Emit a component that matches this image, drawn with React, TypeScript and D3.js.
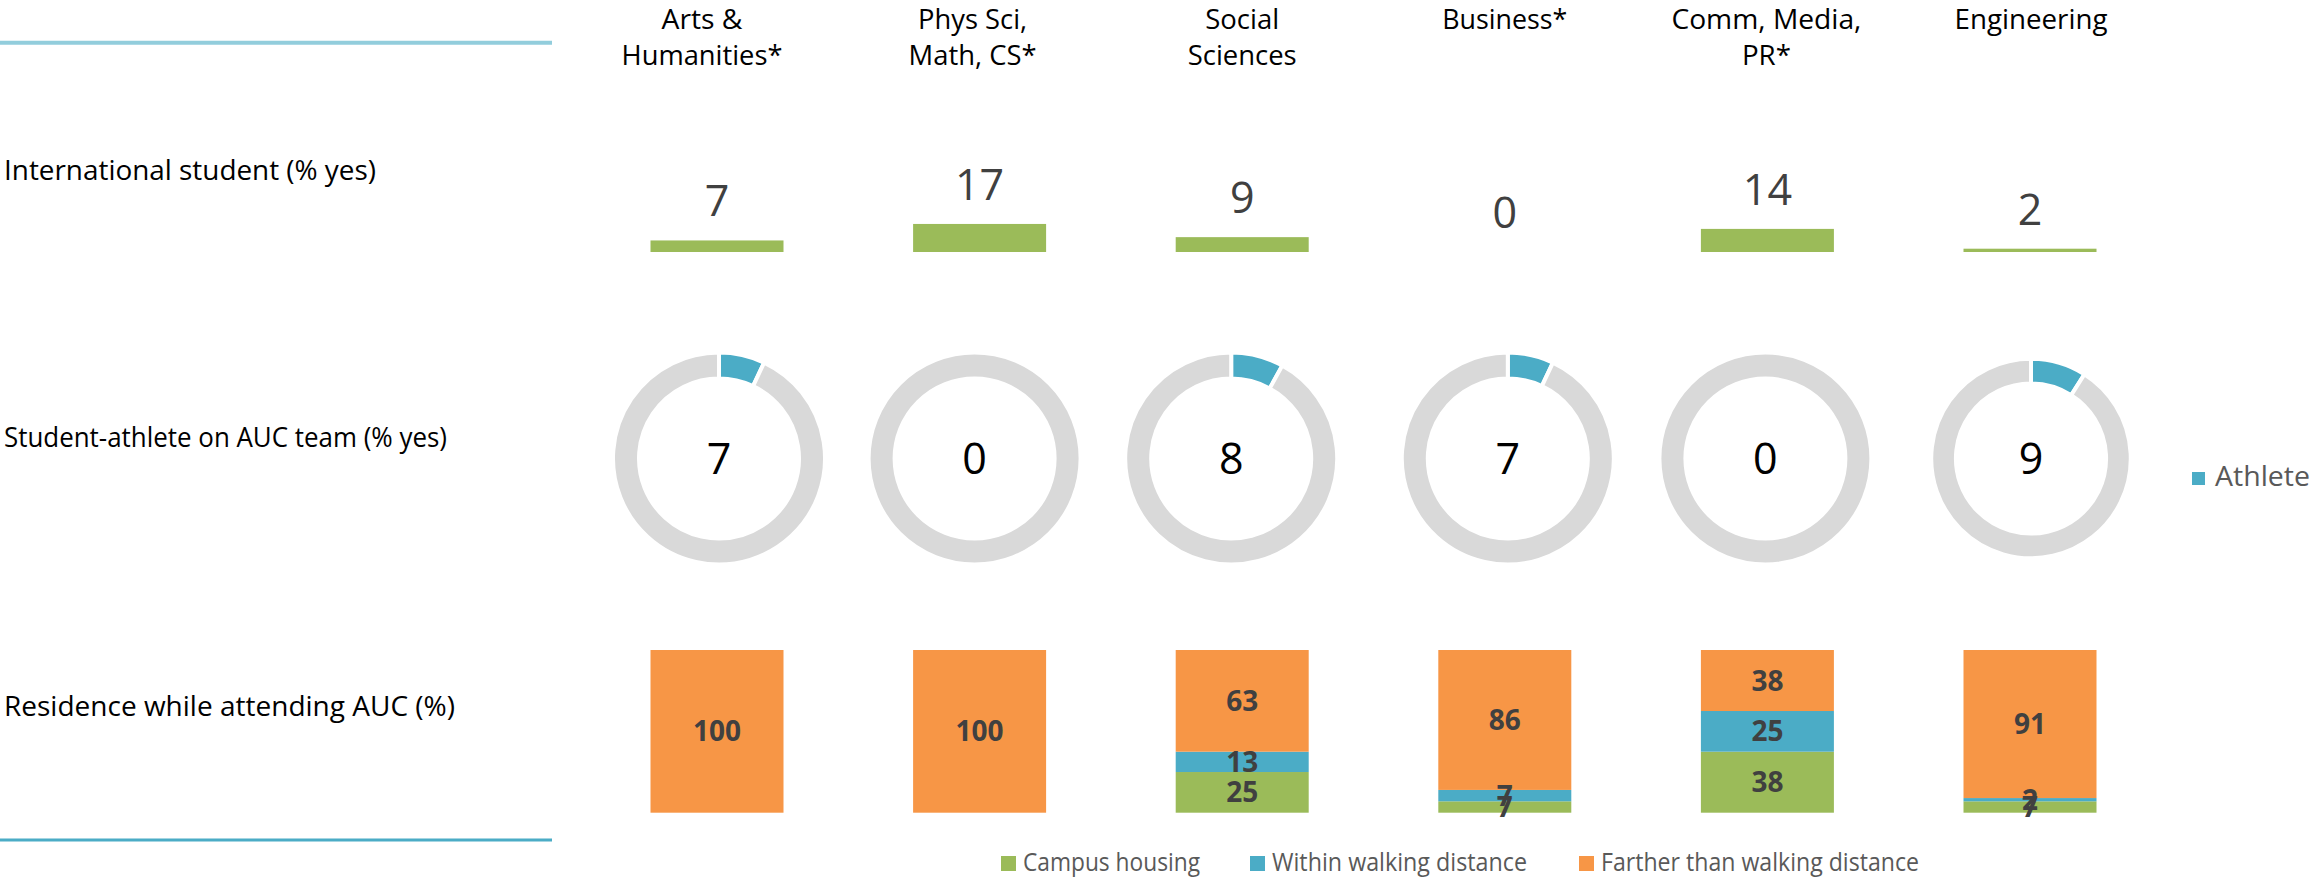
import React from "react";
import * as d3 from "d3";

// ---------- data ----------
const categories = [
  "Arts & Humanities*",
  "Phys Sci, Math, CS*",
  "Social Sciences",
  "Business*",
  "Comm, Media, PR*",
  "Engineering",
];
const headerLines = [
  ["Arts &", "Humanities*"],
  ["Phys Sci,", "Math, CS*"],
  ["Social", "Sciences"],
  ["Business*"],
  ["Comm, Media,", "PR*"],
  ["Engineering"],
];
const rowLabels = [
  "International student (% yes)",
  "Student-athlete on AUC team (% yes)",
  "Residence while attending AUC (%)",
];
const internationalYes = [7, 17, 9, 0, 14, 2];
const athleteYes = [7, 0, 8, 7, 0, 9];
const campusHousing = [0, 0, 25, 7, 37.5, 7];
const walkingDistance = [0, 0, 12.5, 7, 25, 2];
const fartherDistance = [100, 100, 62.5, 86, 37.5, 91];
const residenceSeries = ["Campus housing", "Within walking distance", "Farther than walking distance"];
const athleteLegend = "Athlete";

// ---------- layout / style ----------
const W = 2315;
const H = 879;
const FONT = "'Open Sans', 'Noto Sans', sans-serif";
const GREEN = "#9BBB59";
const BLUE = "#4BACC6";
const ORANGE = "#F79646";
const GRAY = "#D9D9D9";
const seriesColors = [GREEN, BLUE, ORANGE];
const headerDx = [-15, -7, 0, 0, -1, 1];
const headerWidths = [[81, 161], [109, 128], [74, 109], [125], [190, 49], [153]];
const donutDx = [2, -5, -11, 3, -2, 1];
const donutSize = [1, 1, 1, 1, 1, 0.94];
const rowLabelWidths = [372, 443, 451];
const rowLabelBaselines = [180, 447, 716];
const legendWidths = [177, 255, 318];
const legendX = [1001, 1250, 1579];

export default function App() {
  const x = d3.scalePoint<string>().domain(categories).range([717, 2030]);
  const barW = 133;

  const yIntl = d3.scaleLinear().domain([0, 100]).range([252, 87]);
  const yRes = d3.scaleLinear().domain([0, 100]).range([812.7, 650]);

  const table = categories.map((c, i) => ({
    cat: c,
    campus: campusHousing[i],
    walk: walkingDistance[i],
    far: fartherDistance[i],
  }));
  const keys = ["campus", "walk", "far"];
  const stacked = d3.stack<any>().keys(keys)(table);
  const fmt = d3.format(".0f");

  const pie = d3.pie<number>().sort(null).value((d) => d);

  return (
    <svg
      width={W}
      height={H}
      style={{ position: "absolute", left: 0, top: 0, background: "#fff" }}
      fontFamily={FONT}
    >
      {/* decorative lines */}
      <line x1={0} x2={552} y1={42.7} y2={42.7} stroke="#92CDDC" strokeWidth={4} />
      <line x1={0} x2={552} y1={840} y2={840} stroke={BLUE} strokeWidth={3} />

      {/* headers */}
      {headerLines.map((lines, i) =>
        lines.map((t, j) => (
          <text
            key={`h${i}-${j}`}
            x={(x(categories[i]) as number) + headerDx[i]}
            y={28.5 + j * 36}
            textAnchor="middle"
            fontSize={27}
            fill="#000"
            textLength={headerWidths[i][j]}
            lengthAdjust="spacingAndGlyphs"
          >
            {t}
          </text>
        ))
      )}

      {/* row labels */}
      {rowLabels.map((t, i) => (
        <text
          key={`r${i}`}
          x={4}
          y={rowLabelBaselines[i]}
          fontSize={28}
          fill="#000"
          textLength={rowLabelWidths[i]}
          lengthAdjust="spacingAndGlyphs"
        >
          {t}
        </text>
      ))}

      {/* row 1: international bars */}
      {internationalYes.map((v, i) => {
        const cx = x(categories[i]) as number;
        return (
          <g key={`b${i}`}>
            <rect x={cx - barW / 2} y={yIntl(v)} width={barW} height={yIntl(0) - yIntl(v)} fill={GREEN} />
            <text x={cx} y={yIntl(v) - 24} textAnchor="middle" fontSize={43} fill="#404040">
              {fmt(v)}
            </text>
          </g>
        );
      })}

      {/* row 2: athlete donuts */}
      {athleteYes.map((v, i) => {
        const cx = (x(categories[i]) as number) + donutDx[i];
        const cy = 458.5;
        const s = donutSize[i];
        const arc = d3.arc<d3.PieArcDatum<number>>().innerRadius(82 * s - 2).outerRadius(104 * s + 2);
        const arcs = pie([v, 100 - v]);
        return (
          <g key={`d${i}`} transform={`translate(${cx},${cy})`}>
            {arcs.map((a, k) => (
              <path key={k} d={arc(a) || ""} fill={k === 0 ? BLUE : GRAY} stroke="#fff" strokeWidth={4} />
            ))}
            <text x={0} y={15} textAnchor="middle" fontSize={43} fill="#000">
              {fmt(v)}
            </text>
          </g>
        );
      })}

      {/* athlete legend */}
      <rect x={2192} y={472} width={13} height={13} fill={BLUE} />
      <text x={2215} y={486} fontSize={27} fill="#595959" textLength={95} lengthAdjust="spacingAndGlyphs">
        {athleteLegend}
      </text>

      {/* row 3: residence stacked bars */}
      {stacked.map((series, si) => (
        <g key={`s${si}`}>
          {series.map((d, i) => {
            const cx = x(categories[i]) as number;
            const v = d[1] - d[0];
            if (v <= 0) return null;
            return (
              <rect
                key={i}
                x={cx - barW / 2}
                y={yRes(d[1])}
                width={barW}
                height={yRes(d[0]) - yRes(d[1])}
                fill={seriesColors[si]}
              />
            );
          })}
        </g>
      ))}
      {stacked.map((series, si) => (
        <g key={`l${si}`}>
          {series.map((d, i) => {
            const cx = x(categories[i]) as number;
            const v = d[1] - d[0];
            if (v <= 0) return null;
            return (
              <text
                key={i}
                x={cx}
                y={(yRes(d[0]) + yRes(d[1])) / 2 + 10}
                textAnchor="middle"
                fontSize={28}
                fontWeight="bold"
                fill="#404040"
              >
                {fmt(v)}
              </text>
            );
          })}
        </g>
      ))}

      {/* residence legend */}
      {residenceSeries.map((t, i) => (
        <g key={`lg${i}`}>
          <rect x={legendX[i]} y={856} width={15} height={15} fill={seriesColors[i]} />
          <text
            x={legendX[i] + 22}
            y={871}
            fontSize={25}
            fill="#595959"
            textLength={legendWidths[i]}
            lengthAdjust="spacingAndGlyphs"
          >
            {t}
          </text>
        </g>
      ))}
    </svg>
  );
}
